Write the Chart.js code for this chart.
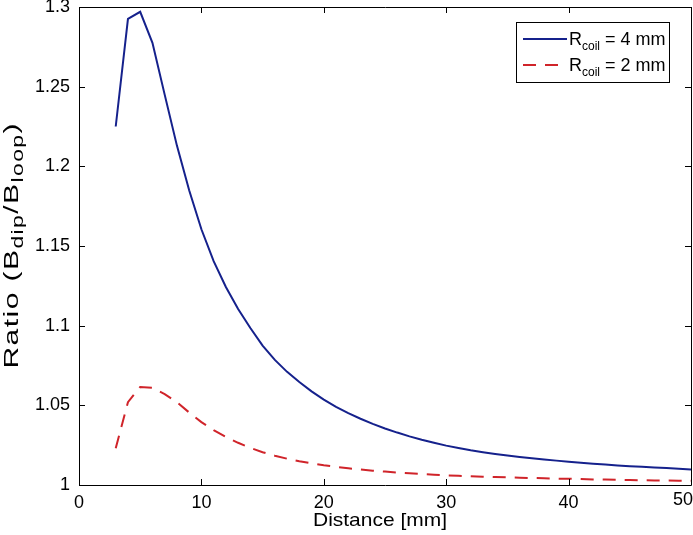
<!DOCTYPE html>
<html>
<head>
<meta charset="utf-8">
<script src="https://cdn.jsdelivr.net/npm/chart.js@4/dist/chart.umd.min.js"></script>
<style>
  html, body { margin: 0; padding: 0; background: #fff; }
  #wrap { width: 693px; height: 535px; position: relative; }
</style>
</head>
<body>
<div id="wrap"><canvas id="c" width="693" height="535"></canvas></div>
<script>
// ---- data ----
const distances = [3,4,5,6,7,8,9,10,11,12,13,14,15,16,17,18,19,20,21,22,23,24,25,26,27,28,29,30,31,32,33,34,35,36,37,38,39,40,41,42,43,44,45,46,47,48,49,50];
const ratioCoil4 = [1.225,1.2925,1.297,1.2775,1.245,1.213,1.185,1.1605,1.1405,1.1243,1.1105,1.0985,1.0875,1.0785,1.0710,1.0646,1.0588,1.0536,1.0490,1.0451,1.0416,1.0384,1.0355,1.0329,1.0305,1.0284,1.0265,1.0247,1.0232,1.0218,1.0206,1.0195,1.0185,1.0176,1.0168,1.0160,1.0153,1.0146,1.0140,1.0134,1.0128,1.0123,1.0118,1.0114,1.0110,1.0106,1.0102,1.0098];
const ratioCoil2 = [1.023,1.052,1.0615,1.061,1.057,1.052,1.0455,1.0395,1.0345,1.0302,1.0265,1.0233,1.0206,1.0184,1.0165,1.0149,1.0136,1.0124,1.0114,1.0105,1.0097,1.0090,1.0084,1.0078,1.0073,1.0069,1.0065,1.0061,1.0058,1.0055,1.0052,1.0050,1.0048,1.0046,1.0044,1.0042,1.0040,1.0039,1.0037,1.0035,1.0034,1.0032,1.0031,1.0030,1.0029,1.0028,1.0027,1.0026];
const seriesNames = ['Rcoil = 4 mm', 'Rcoil = 2 mm'];
const legendParts = [
  [{t:'R'},{t:'coil',sub:true},{t:' = 4 mm'}],
  [{t:'R'},{t:'coil',sub:true},{t:' = 2 mm'}]
];
const xTickValues = [0,10,20,30,40,50];
const xTickLabels = ['0','10','20','30','40','50'];
const yTickValues = [1,1.05,1.1,1.15,1.2,1.25,1.3];
const yTickLabels = ['1','1.05','1.1','1.15','1.2','1.25','1.3'];
const xTitleParts = [{t:'Distance [mm]'}];
const yTitleParts = [{t:'Ratio (B'},{t:'dip',sub:true},{t:'/B'},{t:'loop',sub:true},{t:')'}];

const FONT = '"Liberation Sans", Arial, Helvetica, sans-serif';
const BLUE = '#15218c';
const RED = '#d0242a';

function toPoints(xs, ys){ return xs.map((x,i)=>({x:x, y:ys[i]})); }

function richWidth(ctx, parts, size, subSize, sp){
  let w = 0;
  parts.forEach(p=>{
    ctx.font = (p.sub?subSize:size)+'px '+FONT;
    for (const ch of p.t) w += ctx.measureText(ch).width + sp;
  });
  return w - sp;
}
function drawRich(ctx, parts, x, y, size, subSize, subDrop, sp){
  let cx = x;
  ctx.textBaseline = 'alphabetic';
  ctx.textAlign = 'left';
  parts.forEach(p=>{
    ctx.font = (p.sub?subSize:size)+'px '+FONT;
    if (!sp) {
      ctx.fillText(p.t, cx, y + (p.sub?subDrop:0));
      cx += ctx.measureText(p.t).width;
    } else {
      for (const ch of p.t) {
        ctx.fillText(ch, cx, y + (p.sub?subDrop:0));
        cx += ctx.measureText(ch).width + sp;
      }
    }
  });
}

const framePlugin = {
  id: 'frame',
  afterDraw(chart){
    const ctx = chart.ctx;
    const a = chart.chartArea;
    const xs = chart.scales.x, ys = chart.scales.y;
    ctx.save();
    ctx.strokeStyle = '#000';
    ctx.lineWidth = 1;
    ctx.beginPath();
    ctx.rect(Math.round(a.left)+0.5, Math.round(a.top)+0.5, Math.round(a.right-a.left), Math.round(a.bottom-a.top));
    ctx.stroke();
    const tl = 6;
    ctx.beginPath();
    xTickValues.forEach(v=>{
      const px = Math.round(xs.getPixelForValue(v))+0.5;
      ctx.moveTo(px, a.bottom); ctx.lineTo(px, a.bottom-tl);
      ctx.moveTo(px, a.top); ctx.lineTo(px, a.top+tl);
    });
    yTickValues.forEach(v=>{
      const py = Math.round(ys.getPixelForValue(v))+0.5;
      ctx.moveTo(a.left, py); ctx.lineTo(a.left+tl, py);
      ctx.moveTo(a.right, py); ctx.lineTo(a.right-tl, py);
    });
    ctx.stroke();

    ctx.fillStyle = '#000';
    // last x tick label, kept inside the canvas edge
    {
      const i = xTickValues.length-1;
      ctx.font = '18px '+FONT;
      ctx.textAlign = 'right';
      ctx.textBaseline = 'middle';
      ctx.fillText(xTickLabels[i], 693, 500);
    }
    // x title
    {
      const size = 19, sub = 13;
      const w = richWidth(ctx, xTitleParts, size, sub, 0);
      const target = 134;
      ctx.save();
      ctx.translate(380, 526);
      ctx.scale(target/w, 1);
      drawRich(ctx, xTitleParts, -w/2, 0, size, sub, 5, 0);
      ctx.restore();
    }
    // y title
    {
      const size = 21, sub = 16, sp = 1;
      const w = richWidth(ctx, yTitleParts, size, sub, sp);
      const target = 245;
      ctx.save();
      ctx.translate(18, 246);
      ctx.rotate(-Math.PI/2);
      ctx.scale(target/w, 1);
      drawRich(ctx, yTitleParts, -w/2, 0, size, sub, 5, sp);
      ctx.restore();
    }

    // legend
    const lx = 516, ly = 22, lw = 153, lh = 60;
    ctx.fillStyle = '#fff';
    ctx.fillRect(lx, ly, lw, lh);
    ctx.strokeStyle = '#000';
    ctx.lineWidth = 1;
    ctx.strokeRect(lx+0.5, ly+0.5, lw, lh);
    const rowsY = [39, 65];
    chart.data.datasets.forEach((ds, i)=>{
      const y = rowsY[i];
      ctx.save();
      ctx.strokeStyle = ds.borderColor;
      ctx.lineWidth = ds.borderWidth;
      ctx.setLineDash(ds.borderDash || []);
      ctx.beginPath();
      ctx.moveTo(523, y); ctx.lineTo(567, y);
      ctx.stroke();
      ctx.restore();
      ctx.fillStyle = '#000';
      drawRich(ctx, legendParts[i], 569, y+6, 18, 12, 5, 0);
    });
    ctx.restore();
  }
};

new Chart(document.getElementById('c'), {
  type: 'line',
  data: {
    datasets: [
      { label: seriesNames[0], data: toPoints(distances, ratioCoil4), borderColor: BLUE, backgroundColor: BLUE, borderWidth: 2, pointRadius: 0, tension: 0, fill: false },
      { label: seriesNames[1], data: toPoints(distances, ratioCoil2), borderColor: RED, backgroundColor: RED, borderWidth: 2, borderDash: [13, 9], pointRadius: 0, tension: 0, fill: false }
    ]
  },
  options: {
    responsive: false,
    animation: false,
    devicePixelRatio: 1,
    layout: { padding: { left: 0, top: 7, right: 2, bottom: 0 } },
    plugins: { legend: { display: false }, tooltip: { enabled: false }, title: { display: false } },
    scales: {
      x: {
        type: 'linear', min: 0, max: 50,
        grid: { display: false, drawTicks: false },
        border: { display: false },
        ticks: {
          stepSize: 10, padding: 7, color: '#000', maxRotation: 0,
          font: { family: FONT, size: 18 },
          callback: (v)=> {
            const i = xTickValues.indexOf(v);
            return (i>=0 && i<xTickValues.length-1) ? xTickLabels[i] : '';
          }
        },
        afterFit(s){ s.height = 50; s.paddingLeft = 0; s.paddingRight = 0; }
      },
      y: {
        type: 'linear', min: 1, max: 1.3,
        grid: { display: false, drawTicks: false },
        border: { display: false },
        ticks: {
          stepSize: 0.05, padding: 9, color: '#000',
          font: { family: FONT, size: 18 },
          callback: (v)=> {
            const i = yTickValues.findIndex(t=>Math.abs(t-v)<1e-6);
            return i>=0 ? yTickLabels[i] : '';
          }
        },
        afterFit(s){ s.width = 79; s.paddingTop = 0; s.paddingBottom = 0; }
      }
    }
  },
  plugins: [framePlugin]
});
</script>
</body>
</html>
